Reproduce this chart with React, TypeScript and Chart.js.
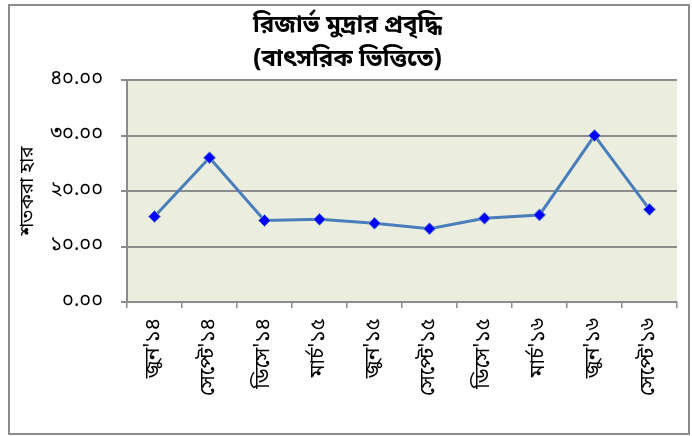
import React, { useEffect, useRef } from "react";
import { Chart, registerables } from "chart.js";

Chart.register(...registerables);

const categories = ["জুন'১৪", "সেপ্টে'১৪", "ডিসে'১৪", "মার্চ'১৫", "জুন'১৫", "সেপ্টে'১৫", "ডিসে'১৫", "মার্চ'১৬", "জুন'১৬", "সেপ্টে'১৬"];
const growth = [15.4, 26.0, 14.7, 14.9, 14.2, 13.2, 15.1, 15.7, 30.0, 16.7];
const titleLines = ["রিজার্ভ মুদ্রার প্রবৃদ্ধি", "(বাৎসরিক ভিত্তিতে)"];
const yTitle = "শতকরা হার";

const bnDigits = ["০", "১", "২", "৩", "৪", "৫", "৬", "৭", "৮", "৯"];
const toBn = (s: string) => s.replace(/[0-9]/g, (d) => bnDigits[+d]);

const FONT = "'Noto Sans Bengali', 'Noto Serif Bengali', 'Lohit Bengali', 'FreeSerif', 'Noto Sans', sans-serif";

const bgPlugin = {
  id: "bg",
  beforeDraw(chart: any) {
    const { ctx, chartArea } = chart;
    ctx.save();
    ctx.fillStyle = "#EBEEDE";
    ctx.fillRect(chartArea.left, chartArea.top, chartArea.right - chartArea.left, chartArea.bottom - chartArea.top);
    ctx.restore();
  },
  afterDraw(chart: any) {
    const { ctx } = chart;
    ctx.save();
    ctx.strokeStyle = "#8C8C8C";
    ctx.lineWidth = 2;
    ctx.strokeRect(9, 5, 680, 429);
    ctx.restore();
  },
};

export default function App() {
  const ref = useRef<HTMLCanvasElement>(null);
  useEffect(() => {
    document.body.style.margin = "0";
    const chart = new Chart(ref.current!, {
      type: "line",
      data: {
        labels: categories,
        datasets: [
          {
            data: growth,
            borderColor: "#4A7EBB",
            borderWidth: 3,
            pointStyle: "rectRot",
            pointRadius: 6,
            pointBackgroundColor: "#0000FF",
            pointBorderColor: "#6E9BD0",
            pointBorderWidth: 1,
            tension: 0,
          },
        ],
      },
      options: {
        responsive: false,
        animation: false,
        layout: { padding: { left: 18, right: 15, top: 6, bottom: 0 } },
        plugins: {
          legend: { display: false },
          tooltip: { enabled: false },
          title: {
            display: true,
            text: titleLines,
            color: "#000",
            font: { family: FONT, size: 24, weight: "bold", lineHeight: 1.42 },
            padding: { top: 4, bottom: 2 },
          },
        },
        scales: {
          x: {
            offset: true,
            grid: {
              offset: true,
              drawOnChartArea: false,
              drawTicks: true,
              tickLength: 6,
              color: "#8C8C8C",
              lineWidth: 1.5,
            },
            border: { color: "#8C8C8C", width: 2 },
            ticks: {
              color: "#000",
              minRotation: 90,
              maxRotation: 90,
              autoSkip: false,
              padding: 10,
              font: { family: FONT, size: 21 },
            },
            afterFit(scale: any) {
              scale.height = 134;
            },
          },
          y: {
            min: 0,
            max: 40,
            ticks: {
              stepSize: 10,
              color: "#000",
              padding: 18,
              font: { family: FONT, size: 20 },
              callback: (v: any) => toBn(Number(v).toFixed(2)),
            },
            grid: { color: "#8C8C8C", lineWidth: 2, tickLength: 6 },
            border: { color: "#8C8C8C", width: 2 },
            title: {
              display: true,
              text: yTitle,
              color: "#000",
              font: { family: FONT, size: 19 },
              padding: { top: 0, bottom: 0 },
            },
            afterFit(scale: any) {
              scale.width = 109;
            },
          },
        },
      },
      plugins: [bgPlugin],
    });
    return () => chart.destroy();
  }, []);
  return (
    <div style={{ width: 692, height: 436 }}>
      <canvas ref={ref} width={692} height={436} style={{ display: "block" }} />
    </div>
  );
}
